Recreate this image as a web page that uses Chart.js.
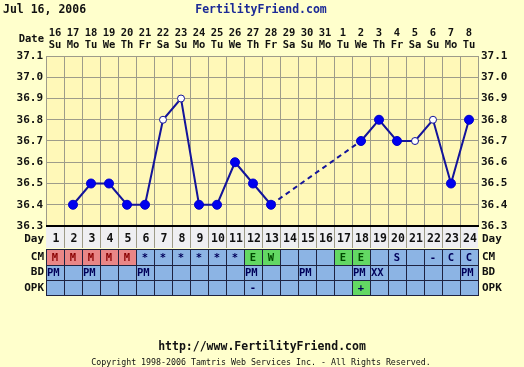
<!DOCTYPE html>
<html>
<head>
<meta charset="utf-8">
<script src="https://cdn.jsdelivr.net/npm/chart.js@4"></script>
<style>
  html, body { margin: 0; padding: 0; background: #FFFFCC; }
  canvas { display: block; }
</style>
</head>
<body>
<canvas id="bbtChart" width="524" height="367"></canvas>
<script>
const dates = ['16','17','18','19','20','21','22','23','24','25','26','27','28','29','30','31','1','2','3','4','5','6','7','8'];
const weekdays = ['Su','Mo','Tu','We','Th','Fr','Sa','Su','Mo','Tu','We','Th','Fr','Sa','Su','Mo','Tu','We','Th','Fr','Sa','Su','Mo','Tu'];
const cycleDays = ['1','2','3','4','5','6','7','8','9','10','11','12','13','14','15','16','17','18','19','20','21','22','23','24'];
const temps = [null, 36.4, 36.5, 36.5, 36.4, 36.4, 36.8, 36.9, 36.4, 36.4, 36.6, 36.5, 36.4, null, null, null, null, 36.7, 36.8, 36.7, 36.7, 36.8, 36.5, 36.8];
const openDays = [7, 8, 21, 22];
const cm = ['M','M','M','M','M','*','*','*','*','*','*','E','W','','','','E','E','','S','','-','C','C'];
const bd = ['PM','','PM','','','PM','','','','','','PM','','','PM','','','PM','XX','','','','','PM'];
const opk = ['','','','','','','','','','','','-','','','','','','+','','','','','',''];
const yTicks = [36.3, 37.1];

const MONO = '"DejaVu Sans Mono", "Liberation Mono", monospace';
const GRID = '#9E9C8A';

const cmColor = (v) => {
  if (v === 'M') return '#E98686';
  if (v === 'E' || v === 'W') return '#63D863';
  return '#8CB4E4';
}

const cmText = (v) => {
  if (v === 'M') return '#8A0000';
  if (v === 'E' || v === 'W') return '#004A00';
  return '#00005A';
}

const fertilityTable = {
  id: 'fertilityTable',
  beforeDraw: (chart) => {
    const { ctx, chartArea: a } = chart;
    ctx.save();
    ctx.fillStyle = '#FFFFCC';
    ctx.fillRect(0, 0, chart.width, chart.height);
    ctx.fillStyle = '#FFF8B8';
    ctx.fillRect(a.left, a.top, a.right - a.left, a.bottom - a.top);
    ctx.restore();
  },
  afterDraw: (chart) => {
    const { ctx, chartArea: a } = chart;
    const xs = chart.scales.x;
    const colW = (a.right - a.left) / cycleDays.length;
    const bold = (size) => `bold ${size}px ${MONO}`;
    ctx.save();
    ctx.textBaseline = 'middle';

    // title lines
    ctx.fillStyle = '#111';
    ctx.font = bold(11.5);
    ctx.textAlign = 'left';
    ctx.fillText('Jul 16, 2006', 3, 10);
    ctx.fillStyle = '#1C2A96';
    ctx.textAlign = 'center';
    ctx.fillText('FertilityFriend.com', 261, 10);

    // date header
    ctx.fillStyle = '#111';
    ctx.font = bold(10.5);
    ctx.textAlign = 'right';
    ctx.fillText('Date', 44, 39);
    ctx.textAlign = 'center';
    dates.forEach((d, i) => {
      const x = xs.getPixelForValue(i);
      ctx.fillText(d, x, 33);
      ctx.fillText(weekdays[i], x, 45);
    });

    // day row
    const dayTop = a.bottom + 1, dayH = 21;
    ctx.fillStyle = '#EFEFF2';
    ctx.fillRect(a.left, dayTop, a.right - a.left, dayH);
    ctx.strokeStyle = GRID;
    ctx.lineWidth = 1;
    for (let i = 1; i < cycleDays.length; i++) {
      const x = Math.round(a.left + i * colW) + 0.5;
      ctx.beginPath();
      ctx.moveTo(x, dayTop);
      ctx.lineTo(x, dayTop + dayH);
      ctx.stroke();
    }
    ctx.fillStyle = '#111';
    ctx.font = bold(11.5);
    cycleDays.forEach((d, i) => {
      ctx.fillText(d, xs.getPixelForValue(i) + 1, dayTop + 12);
    });

    // CM / BD / OPK rows
    const rows = [
      { name: 'CM', values: cm, top: 249, h: 16, align: 'center' },
      { name: 'BD', values: bd, top: 265, h: 15, align: 'left' },
      { name: 'OPK', values: opk, top: 280, h: 15, align: 'center' }
    ];
    rows.forEach(row => {
      row.values.forEach((v, i) => {
        const x0 = Math.round(a.left + i * colW);
        let bg = '#8CB4E4';
        if (row.name === 'CM') bg = cmColor(v);
        if (row.name === 'OPK' && v === '+') bg = '#63D863';
        ctx.fillStyle = bg;
        ctx.fillRect(x0, row.top, Math.round(colW), row.h);
      });
      ctx.strokeStyle = '#1E2240';
      ctx.lineWidth = 1;
      for (let i = 0; i <= cycleDays.length; i++) {
        const x = Math.round(a.left + i * colW) + 0.5;
        ctx.beginPath();
        ctx.moveTo(x, row.top);
        ctx.lineTo(x, row.top + row.h);
        ctx.stroke();
      }
      ctx.beginPath();
      ctx.moveTo(a.left, row.top + 0.5);
      ctx.lineTo(a.right + 1, row.top + 0.5);
      ctx.moveTo(a.left, row.top + row.h + 0.5);
      ctx.lineTo(a.right + 1, row.top + row.h + 0.5);
      ctx.stroke();

      ctx.font = bold(10.5);
      row.values.forEach((v, i) => {
        if (!v) return;
        ctx.fillStyle = row.name === 'CM' ? cmText(v) : '#00005A';
        if (row.align === 'left') {
          ctx.textAlign = 'left';
          ctx.fillText(v, a.left + i * colW + 1, row.top + row.h / 2 + 1);
        } else {
          ctx.textAlign = 'center';
          ctx.fillText(v, xs.getPixelForValue(i), row.top + row.h / 2 + 1);
        }
      });
    });

    // row labels on both sides
    ctx.fillStyle = '#111';
    ctx.font = bold(11);
    const labels = [['Day', dayTop + 12], ['CM', 257], ['BD', 272.5], ['OPK', 288]];
    labels.forEach(([t, y]) => {
      ctx.textAlign = 'right';
      ctx.fillText(t, 44, y);
      ctx.textAlign = 'left';
      ctx.fillText(t, a.right + 4, y);
    });

    // bottom axis line
    ctx.strokeStyle = '#000';
    ctx.lineWidth = 2;
    ctx.beginPath();
    ctx.moveTo(a.left, a.bottom);
    ctx.lineTo(a.right + 1, a.bottom);
    ctx.stroke();

    // footer
    ctx.textAlign = 'center';
    ctx.fillStyle = '#111';
    ctx.font = bold(11.5);
    ctx.fillText('http://www.FertilityFriend.com', 262, 347);
    ctx.font = `8.3px ${MONO}`;
    ctx.fillText('Copyright 1998-2006 Tamtris Web Services Inc. - All Rights Reserved.', 261, 363);
    ctx.restore();
  }
};

const isOpen = (i) => openDays.includes(i + 1);

var ctx = document.getElementById('bbtChart').getContext('2d');
var bbtChart = new Chart(ctx, {
  type: 'line',
  data: {
    labels: cycleDays,
    datasets: [{
      label: 'Temperature',
      data: temps,
      borderColor: '#14149A',
      borderWidth: 2,
      spanGaps: true,
      segment: {
        borderDash: c => (c.p0.skip || c.p1.skip || c.p1DataIndex - c.p0DataIndex > 1) ? [5, 4] : undefined,
        borderWidth: c => (c.p1DataIndex - c.p0DataIndex > 1) ? 1.5 : undefined
      },
      pointRadius: c => isOpen(c.dataIndex) ? 3.5 : 4.5,
      pointBackgroundColor: c => isOpen(c.dataIndex) ? '#FFFFFF' : '#0000EE',
      pointBorderColor: c => isOpen(c.dataIndex) ? '#14149A' : '#0000CC',
      pointBorderWidth: 1,
      tension: 0
    }]
  },
  options: {
    responsive: false,
    animation: false,
    devicePixelRatio: 1,
    layout: { padding: { top: 0, left: 0, right: 0, bottom: 141 } },
    plugins: { legend: { display: false }, tooltip: { enabled: false } },
    scales: {
      x: {
        position: 'top',
        offset: true,
        ticks: { display: false },
        grid: { color: GRID, offset: true, drawTicks: false },
        border: { color: GRID },
        afterFit: (s) => { s.height = 56; }
      },
      y: {
        position: 'left',
        min: yTicks[0],
        max: yTicks[1],
        ticks: {
          stepSize: 0.1,
          padding: 3,
          color: '#111',
          font: { family: MONO, size: 11, weight: 'bold' },
          callback: v => v.toFixed(1)
        },
        grid: { color: GRID, drawTicks: false },
        border: { color: GRID },
        afterFit: (s) => { s.width = 46; }
      },
      y2: {
        position: 'right',
        min: yTicks[0],
        max: yTicks[1],
        ticks: {
          stepSize: 0.1,
          padding: 3,
          color: '#111',
          font: { family: MONO, size: 11, weight: 'bold' },
          callback: v => v.toFixed(1)
        },
        grid: { drawOnChartArea: false, drawTicks: false },
        border: { color: GRID },
        afterFit: (s) => { s.width = 46; }
      }
    }
  },
  plugins: [fertilityTable]
});
</script>
</body>
</html>
